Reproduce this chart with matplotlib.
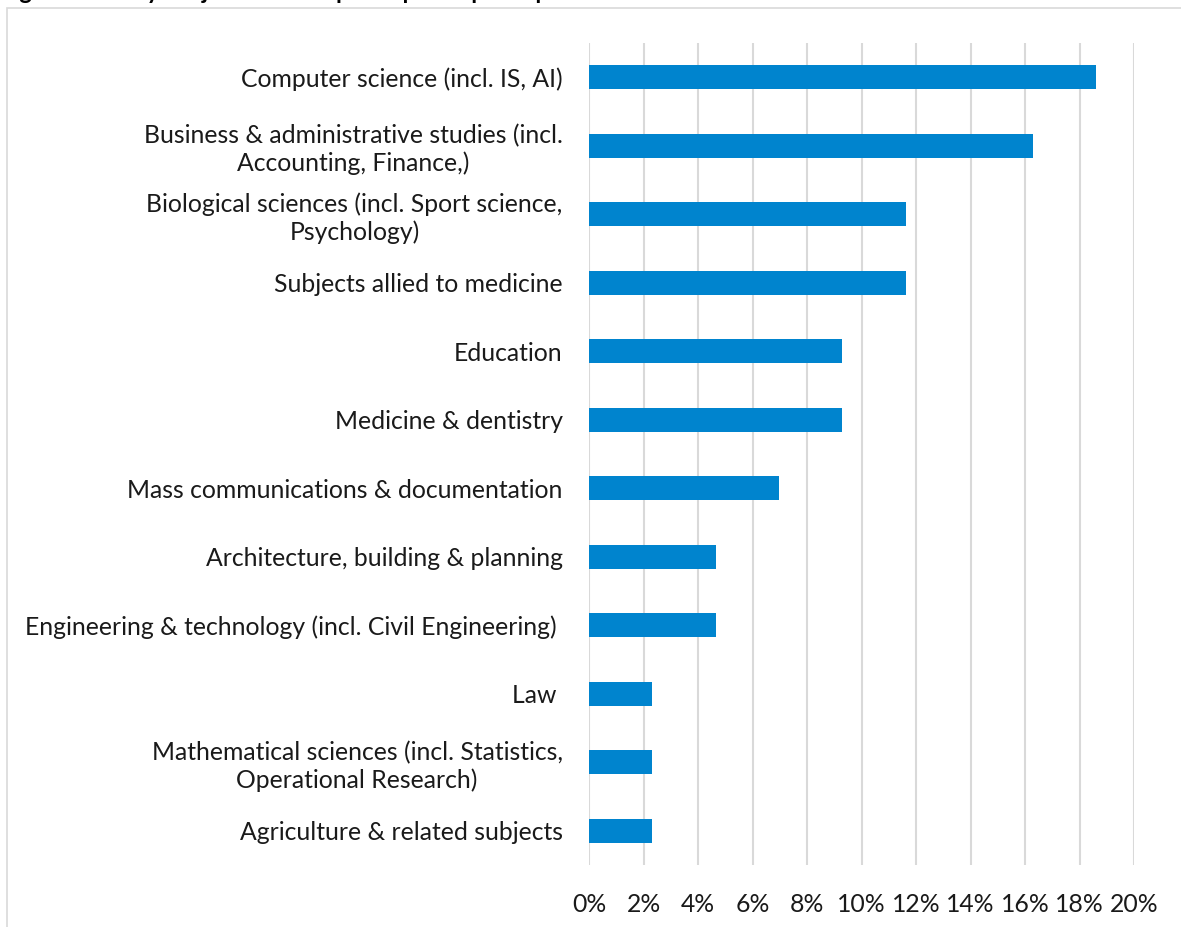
import matplotlib.pyplot as plt
from matplotlib.patches import Rectangle
from matplotlib.ticker import PercentFormatter

plt.rcParams['font.family'] = ['Lato', 'DejaVu Sans']

subjects = [
    "Computer science (incl. IS, AI)",
    "Business & administrative studies (incl.\nAccounting, Finance,)",
    "Biological sciences (incl. Sport science,\nPsychology)",
    "Subjects allied to medicine",
    "Education",
    "Medicine & dentistry",
    "Mass communications & documentation",
    "Architecture, building & planning",
    "Engineering & technology (incl. Civil Engineering) ",
    "Law ",
    "Mathematical sciences (incl. Statistics,\nOperational Research)",
    "Agriculture & related subjects",
]
shares = [18.6, 16.28, 11.63, 11.63, 9.3, 9.3, 6.98, 4.65, 4.65, 2.33, 2.33, 2.33]
ticks = list(range(0, 21, 2))

fig = plt.figure(figsize=(11.81, 9.27), dpi=100)
ax = fig.add_axes([589 / 1181, 1 - 865 / 927, 545 / 1181, 822 / 927])

pos = list(range(len(subjects)))
ax.barh(pos, shares, height=0.35, color='#0084CE', zorder=3)
ax.set_ylim(len(subjects) - 0.5, -0.5)
ax.set_xlim(0, 20)
ax.set_xticks(ticks)
ax.xaxis.set_major_formatter(PercentFormatter(decimals=0))
ax.set_yticks(pos)
ax.set_yticklabels(subjects, multialignment='center')
ax.tick_params(axis='both', length=0, labelsize=17.8, colors='#1a1a1a')
ax.tick_params(axis='x', pad=20)
ax.tick_params(axis='y', pad=19)
ax.grid(axis='x', color='#d9d9d9', linewidth=1.5, zorder=0)
for s in ax.spines.values():
    s.set_visible(False)

# chart frame, only top-left corner is inside the image
fig.patches.append(Rectangle((7 / 1181, -0.1), 1.2, 1 - 8 / 927 + 0.1,
                             transform=fig.transFigure, fill=False,
                             edgecolor='#d9d9d9', linewidth=1.2))

# title is mostly cut off at the top
fig.text(0.0, 1 + 1 / 927, "Figure 3: Study subject areas of participants' prior qualifications",
         fontsize=17, fontweight='bold', va='baseline', ha='left')

fig.savefig('out.png', dpi=100)
